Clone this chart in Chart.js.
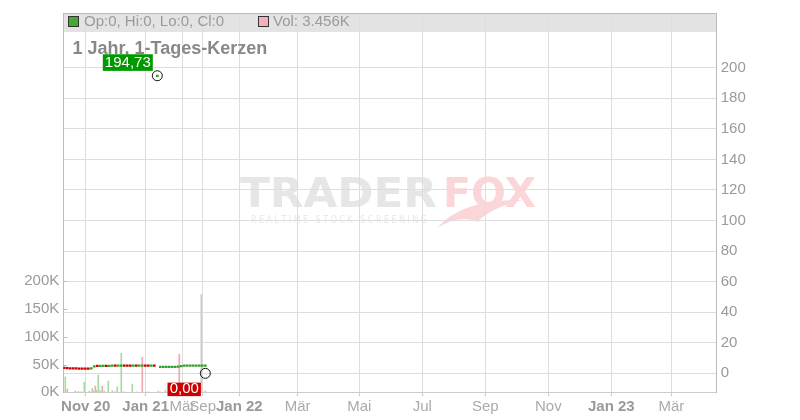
<!DOCTYPE html>
<html>
<head>
<meta charset="utf-8">
<script src="https://cdn.jsdelivr.net/npm/chart.js@4.4.0/dist/chart.umd.min.js"></script>
<style>
  html, body { margin: 0; padding: 0; background: #fff; }
  #wrap { width: 800px; height: 420px; }
</style>
</head>
<body>
<div id="wrap"><canvas id="chart" width="800" height="420"></canvas></div>
<script>
// x axis is an ordinal day index (trading days are packed, future months are not)
const tickDays = [22.4, 82.4, 119, 139.4, 176, 234.4, 296, 359, 422, 485, 548, 608];
const tickLabels = ['Nov 20', 'Jan 21', 'Mär', 'Sep', 'Jan 22', 'Mär', 'Mai', 'Jul', 'Sep', 'Nov', 'Jan 23', 'Mär'];

const priceTicks = [0, 20, 40, 60, 80, 100, 120, 140, 160, 180, 200];
const volTicksK = [0, 50, 100, 150, 200];

// candles (open / close)
const candleDays = [1, 4, 7, 10, 13, 16, 19, 22, 25, 28, 31, 34, 37, 40, 43, 46, 49, 52, 55, 58, 61, 64, 67, 70,
  73, 76, 79, 82, 85, 88, 91, 94, 97, 100, 103, 106, 109, 112, 115, 118, 121, 124, 127, 130, 133, 136, 139, 142];
const opens = [3.2, 3.1, 3.0, 3.0, 2.9, 2.9, 2.8, 2.8, 2.8, 2.7, 4.1, 4.6, 4.3, 4.4, 4.7, 4.4, 4.5, 4.8, 4.5, 4.5, 4.8, 4.8, 4.8, 4.5,
  4.8, 4.5, 4.6, 4.9, 4.9, 4.6, 4.9, 194.2, 3.7, 3.7, 3.7, 3.7, 3.7, 3.7, 3.8, 4.2, 4.5, 4.5, 4.5, 4.5, 4.5, 4.5, 4.5, 4.5];
const closes = [3.0, 2.9, 2.8, 2.7, 2.7, 2.6, 2.6, 2.6, 2.6, 3.1, 4.5, 4.3, 4.6, 4.7, 4.4, 4.7, 4.8, 4.5, 4.8, 4.8, 4.5, 4.5, 4.5, 4.8,
  4.5, 4.8, 4.9, 4.6, 4.6, 4.9, 4.6, 194.73, 4.0, 4.0, 4.0, 4.0, 4.0, 4.0, 4.1, 4.6, 4.8, 4.8, 4.8, 4.8, 4.8, 4.8, 4.8, 4.8];

// volume in thousands, g = up day, p = down day, n = unchanged
const volDays = [2, 4, 12, 15, 18, 21, 26, 29, 30, 32, 33, 35, 37, 39, 41, 45, 49, 52, 54, 58, 61, 69, 73, 79, 85,
  95, 97, 102, 104, 116, 118, 138, 142];
const volK = [28, 6, 2, 1.5, 1, 18.5, 2, 7, 2, 11, 4, 31, 3, 11, 2, 20, 3, 1.5, 10, 70, 1, 15, 1, 63, 1,
  2, 1, 4, 1, 69, 1, 176, 2];
const volDir = ['g', 'p', 'g', 'p', 'p', 'g', 'g', 'g', 'p', 'p', 'g', 'g', 'g', 'p', 'g', 'g', 'g', 'g', 'g', 'g', 'p', 'g', 'g', 'p', 'p',
  'n', 'n', 'n', 'n', 'p', 'n', 'n', 'p'];

const highDay = 94, highValue = 194.73;
const lowDay = 142, lowValue = 0;

const volColors = { g: '#a4dca0', p: '#f3a7b1', n: '#cccccc' };
const FONT = "'Liberation Sans', Arial, sans-serif";
Chart.defaults.font.family = FONT;

function stretched(ctx, text, x, y, width) {
    const w = ctx.measureText(text).width;
    ctx.save();
    ctx.translate(x, y);
    ctx.scale(width / w, 1);
    ctx.fillText(text, 0, 0);
    ctx.restore();
}

const deko = {
    id: 'deko',
    beforeDraw(chart) {
        const { ctx, chartArea: a } = chart;
        ctx.save();
        ctx.fillStyle = '#fff';
        ctx.fillRect(0, 0, chart.width, chart.height);
        // legend band
        ctx.fillStyle = '#e3e3e3';
        ctx.fillRect(a.left, a.top, a.right - a.left, 19);

        // watermark
        ctx.textBaseline = 'alphabetic';
        ctx.font = "bold 41px 'DejaVu Sans'";
        ctx.fillStyle = '#e6e6e6';
        stretched(ctx, 'TRADER', 240, 207, 197);
        ctx.fillStyle = '#fbd6d9';
        stretched(ctx, 'FOX', 443, 207, 93);
        ctx.font = "10px 'DejaVu Sans'";
        ctx.fillStyle = '#e8e8e8';
        stretched(ctx, 'R E A L T I M E   S T O C K   S C R E E N I N G', 251, 223, 176);
        ctx.fillStyle = '#fbd6d9';
        ctx.beginPath();
        ctx.moveTo(437, 228);
        ctx.quadraticCurveTo(462, 199, 522, 200);
        ctx.quadraticCurveTo(488, 209, 478, 222);
        ctx.quadraticCurveTo(460, 214, 437, 228);
        ctx.fill();
        ctx.restore();
    },
    afterDraw(chart) {
        const { ctx, chartArea: a, scales } = chart;
        ctx.save();
        // top border
        ctx.strokeStyle = '#bbbbbb';
        ctx.lineWidth = 1;
        ctx.beginPath();
        ctx.moveTo(a.left, a.top + 0.5);
        ctx.lineTo(a.right, a.top + 0.5);
        ctx.stroke();

        // small tick marks of the volume axis
        volTicksK.forEach(v => {
            if (!v) return;
            const y = Math.round(scales.yv.getPixelForValue(v * 1000)) + 0.5;
            ctx.beginPath();
            ctx.moveTo(a.left, y);
            ctx.lineTo(a.left + 4, y);
            ctx.stroke();
        });

        // legend
        ctx.font = '15px ' + FONT;
        ctx.textBaseline = 'middle';
        ctx.strokeStyle = '#333';
        ctx.fillStyle = '#44aa33';
        ctx.fillRect(68.5, 16.5, 10, 10);
        ctx.strokeRect(68.5, 16.5, 10, 10);
        ctx.fillStyle = '#f4b0ba';
        ctx.fillRect(258.5, 16.5, 10, 10);
        ctx.strokeRect(258.5, 16.5, 10, 10);
        ctx.fillStyle = '#9a9a9a';
        ctx.fillText('Op:0, Hi:0, Lo:0, Cl:0', 84, 22);
        ctx.fillText('Vol: 3.456K', 273, 22);

        // title
        ctx.font = 'bold 18px ' + FONT;
        ctx.textBaseline = 'alphabetic';
        ctx.fillStyle = '#888';
        ctx.fillText('1 Jahr, 1-Tages-Kerzen', 72.5, 54.3);

        // high / low labels
        const hx = scales.x.getPixelForValue(highDay), hy = scales.y.getPixelForValue(highValue);
        const lx = scales.x.getPixelForValue(lowDay), ly = scales.y.getPixelForValue(lowValue);
        ctx.font = '15px ' + FONT;
        ctx.textAlign = 'center';
        ctx.textBaseline = 'middle';
        ctx.fillStyle = '#009900';
        ctx.fillRect(hx - 54.5, hy - 21.5, 50, 16.6);
        ctx.fillStyle = '#fff';
        ctx.fillText('194,73', hx - 29.5, hy - 12.6);
        ctx.fillStyle = '#cc0000';
        ctx.fillRect(lx - 37.8, ly + 9.3, 33.4, 13.5);
        ctx.fillStyle = '#fff';
        ctx.fillText('0,00', lx - 21, ly + 16);
        ctx.restore();
    }
};

const chart = new Chart(document.getElementById('chart'), {
    type: 'bar',
    data: {
        datasets: [
            {
                type: 'line',
                data: [{ x: highDay, y: highValue }, { x: lowDay, y: lowValue }],
                xAxisID: 'x',
                yAxisID: 'y',
                showLine: false,
                pointRadius: 5,
                pointBorderWidth: 1,
                pointBorderColor: '#111',
                pointBackgroundColor: 'rgba(255,255,255,0)',
                order: 0
            },
            {
                data: candleDays.map((d, i) => ({ x: d, y: [opens[i], closes[i]] })),
                xAxisID: 'x',
                yAxisID: 'y',
                backgroundColor: candleDays.map((d, i) => closes[i] >= opens[i] ? '#33a02c' : '#cc0000'),
                barThickness: 2,
                minBarLength: 1.6,
                grouped: false,
                order: 1
            },
            {
                data: volDays.map((d, i) => ({ x: d, y: volK[i] * 1000 })),
                xAxisID: 'x',
                yAxisID: 'yv',
                backgroundColor: volDir.map(k => volColors[k]),
                barThickness: 1,
                grouped: false,
                order: 2
            }
        ]
    },
    options: {
        responsive: false,
        animation: false,
        layout: { padding: { top: 11, left: 0, right: 0, bottom: 0 } },
        plugins: { legend: { display: false }, tooltip: { enabled: false } },
        scales: {
            x: {
                type: 'linear',
                min: 0,
                max: 653.4,
                offset: false,
                afterBuildTicks: s => { s.ticks = tickDays.map(v => ({ value: v })); },
                afterFit: s => { s.height = 27.7; },
                grid: { color: '#dddddd', offset: false, tickLength: 4, tickColor: '#cccccc' },
                border: { color: '#cccccc' },
                ticks: {
                    autoSkip: false,
                    maxRotation: 0,
                    padding: 2,
                    callback: (v, i) => tickLabels[i],
                    font: c => ({ size: 15, weight: /\d/.test(tickLabels[c.index] || '') ? 'bold' : 'normal' }),
                    color: c => /\d/.test(tickLabels[c.index] || '') ? '#999999' : '#aaaaaa'
                }
            },
            y: {
                type: 'linear',
                position: 'right',
                min: -12.4,
                max: 235.8,
                afterBuildTicks: s => { s.ticks = priceTicks.map(v => ({ value: v })); },
                afterFit: s => { s.width = 83.3; },
                grid: { color: '#dddddd', drawTicks: false },
                border: { color: '#bbbbbb' },
                ticks: { padding: 4, color: '#9a9a9a', font: { size: 15 } }
            },
            yv: {
                type: 'linear',
                position: 'left',
                min: 0,
                max: 683000,
                afterBuildTicks: s => { s.ticks = volTicksK.map(v => ({ value: v * 1000 })); },
                afterFit: s => { s.width = 63.3; },
                grid: { drawOnChartArea: false, drawTicks: false },
                border: { color: '#bbbbbb' },
                ticks: { padding: 4, color: '#9a9a9a', font: { size: 15 }, callback: v => (v / 1000) + 'K' }
            }
        }
    },
    plugins: [deko]
});
</script>
</body>
</html>
